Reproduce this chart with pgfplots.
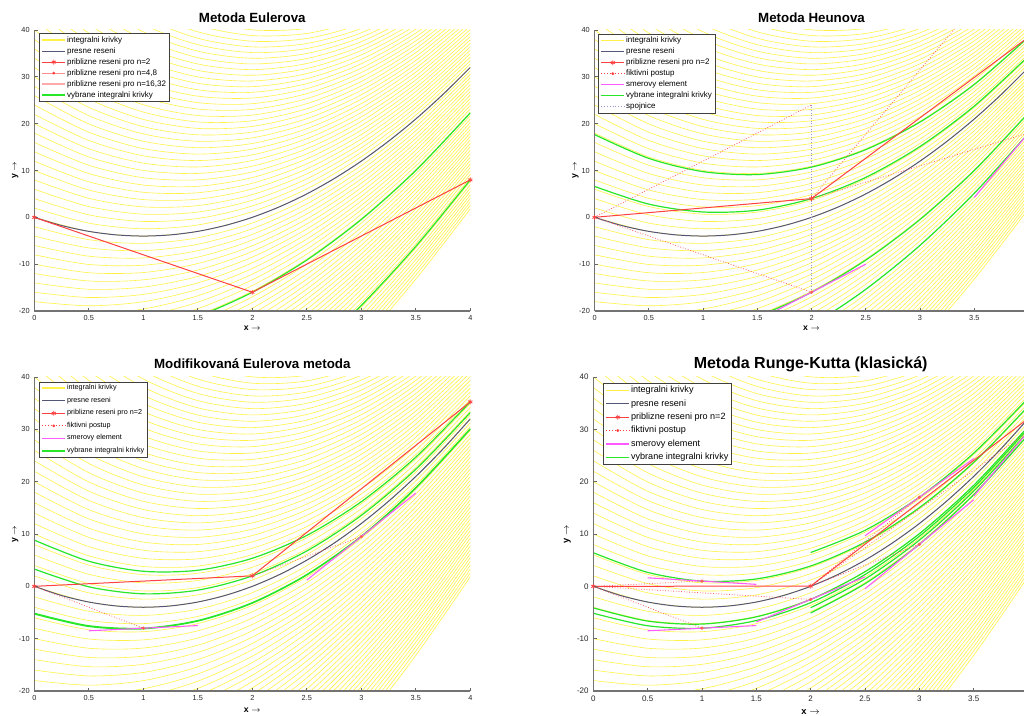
\documentclass[border=0pt]{standalone}
\usepackage{fontspec}
\setmainfont{Liberation Sans}
\usepackage{pgfplots}
\usepackage{pgfplotstable}
\pgfplotsset{compat=1.18}

\definecolor{yelc}{RGB}{255,242,70}
\definecolor{exc}{RGB}{85,85,118}
\definecolor{redc}{RGB}{255,65,65}
\definecolor{grc}{RGB}{40,230,40}
\definecolor{magc}{RGB}{255,90,255}
\definecolor{spc}{RGB}{150,150,205}

% integralni krivky, one column per curve (y(0) = -82,-80,...,66)
\pgfplotstableread[header=false]{
0 -82 -80 -78 -76 -74 -72 -70 -68 -66 -64 -62 -60 -58 -56 -54 -52 -50 -48 -46 -44 -42 -40 -38 -36 -34 -32 -30 -28 -26 -24 -22 -20 -18 -16 -14 -12 -10 -8 -6 -4 -2 0 2 4 6 8 10 12 14 16 18 20 22 24 26 28 30 32 34 36 38 40 42 44 46 48 50 52 54 56 58 60 62 64 66
0.5 -75.37 -73.60 -71.84 -70.07 -68.31 -66.54 -64.78 -63.01 -61.25 -59.48 -57.72 -55.95 -54.19 -52.42 -50.66 -48.89 -47.13 -45.36 -43.60 -41.83 -40.07 -38.30 -36.54 -34.77 -33.01 -31.24 -29.48 -27.71 -25.95 -24.18 -22.42 -20.65 -18.89 -17.12 -15.36 -13.59 -11.83 -10.06 -8.30 -6.53 -4.77 -3.00 -1.24 0.53 2.30 4.06 5.83 7.59 9.36 11.12 12.89 14.65 16.42 18.18 19.95 21.71 23.48 25.24 27.01 28.77 30.54 32.30 34.07 35.83 37.60 39.36 41.13 42.89 44.66 46.42 48.19 49.95 51.72 53.48 55.25
1 -67.86 -66.30 -64.75 -63.19 -61.63 -60.07 -58.52 -56.96 -55.40 -53.84 -52.29 -50.73 -49.17 -47.61 -46.06 -44.50 -42.94 -41.38 -39.82 -38.27 -36.71 -35.15 -33.59 -32.04 -30.48 -28.92 -27.36 -25.81 -24.25 -22.69 -21.13 -19.58 -18.02 -16.46 -14.90 -13.35 -11.79 -10.23 -8.67 -7.12 -5.56 -4.00 -2.44 -0.88 0.67 2.23 3.79 5.35 6.90 8.46 10.02 11.58 13.13 14.69 16.25 17.81 19.36 20.92 22.48 24.04 25.59 27.15 28.71 30.27 31.82 33.38 34.94 36.50 38.06 39.61 41.17 42.73 44.29 45.84 47.40
1.5 -59.36 -57.98 -56.61 -55.23 -53.86 -52.49 -51.11 -49.74 -48.36 -46.99 -45.61 -44.24 -42.86 -41.49 -40.11 -38.74 -37.37 -35.99 -34.62 -33.24 -31.87 -30.49 -29.12 -27.74 -26.37 -24.99 -23.62 -22.24 -20.87 -19.50 -18.12 -16.75 -15.37 -14.00 -12.62 -11.25 -9.87 -8.50 -7.12 -5.75 -4.37 -3.00 -1.63 -0.25 1.12 2.50 3.87 5.25 6.62 8.00 9.37 10.75 12.12 13.50 14.87 16.24 17.62 18.99 20.37 21.74 23.12 24.49 25.87 27.24 28.62 29.99 31.37 32.74 34.11 35.49 36.86 38.24 39.61 40.99 42.36
2 -49.73 -48.52 -47.31 -46.09 -44.88 -43.67 -42.46 -41.24 -40.03 -38.82 -37.60 -36.39 -35.18 -33.96 -32.75 -31.54 -30.33 -29.11 -27.90 -26.69 -25.47 -24.26 -23.05 -21.83 -20.62 -19.41 -18.20 -16.98 -15.77 -14.56 -13.34 -12.13 -10.92 -9.70 -8.49 -7.28 -6.07 -4.85 -3.64 -2.43 -1.21 0.00 1.21 2.43 3.64 4.85 6.07 7.28 8.49 9.70 10.92 12.13 13.34 14.56 15.77 16.98 18.20 19.41 20.62 21.83 23.05 24.26 25.47 26.69 27.90 29.11 30.33 31.54 32.75 33.96 35.18 36.39 37.60 38.82 40.03
2.5 -38.89 -37.82 -36.75 -35.68 -34.61 -33.54 -32.47 -31.40 -30.33 -29.26 -28.19 -27.12 -26.05 -24.98 -23.91 -22.84 -21.77 -20.69 -19.62 -18.55 -17.48 -16.41 -15.34 -14.27 -13.20 -12.13 -11.06 -9.99 -8.92 -7.85 -6.78 -5.71 -4.64 -3.56 -2.49 -1.42 -0.35 0.72 1.79 2.86 3.93 5.00 6.07 7.14 8.21 9.28 10.35 11.42 12.49 13.56 14.64 15.71 16.78 17.85 18.92 19.99 21.06 22.13 23.20 24.27 25.34 26.41 27.48 28.55 29.62 30.69 31.77 32.84 33.91 34.98 36.05 37.12 38.19 39.26 40.33
3 -26.74 -25.79 -24.85 -23.90 -22.96 -22.01 -21.07 -20.12 -19.18 -18.23 -17.29 -16.34 -15.40 -14.45 -13.51 -12.56 -11.62 -10.68 -9.73 -8.79 -7.84 -6.90 -5.95 -5.01 -4.06 -3.12 -2.17 -1.23 -0.28 0.66 1.61 2.55 3.50 4.44 5.39 6.33 7.28 8.22 9.17 10.11 11.06 12.00 12.94 13.89 14.83 15.78 16.72 17.67 18.61 19.56 20.50 21.45 22.39 23.34 24.28 25.23 26.17 27.12 28.06 29.01 29.95 30.90 31.84 32.79 33.73 34.68 35.62 36.56 37.51 38.45 39.40 40.34 41.29 42.23 43.18
3.5 -13.19 -12.35 -11.52 -10.68 -9.85 -9.02 -8.18 -7.35 -6.52 -5.68 -4.85 -4.01 -3.18 -2.35 -1.51 -0.68 0.16 0.99 1.82 2.66 3.49 4.32 5.16 5.99 6.83 7.66 8.49 9.33 10.16 10.99 11.83 12.66 13.50 14.33 15.16 16.00 16.83 17.66 18.50 19.33 20.17 21.00 21.83 22.67 23.50 24.34 25.17 26.00 26.84 27.67 28.50 29.34 30.17 31.01 31.84 32.67 33.51 34.34 35.17 36.01 36.84 37.68 38.51 39.34 40.18 41.01 41.85 42.68 43.51 44.35 45.18 46.01 46.85 47.68 48.52
4 1.83 2.57 3.30 4.04 4.78 5.51 6.25 6.98 7.72 8.45 9.19 9.93 10.66 11.40 12.13 12.87 13.61 14.34 15.08 15.81 16.55 17.28 18.02 18.76 19.49 20.23 20.96 21.70 22.43 23.17 23.91 24.64 25.38 26.11 26.85 27.59 28.32 29.06 29.79 30.53 31.26 32.00 32.74 33.47 34.21 34.94 35.68 36.41 37.15 37.89 38.62 39.36 40.09 40.83 41.57 42.30 43.04 43.77 44.51 45.24 45.98 46.72 47.45 48.19 48.92 49.66 50.40 51.13 51.87 52.60 53.34 54.07 54.81 55.55 56.28
}\yel

% presne reseni
\pgfplotstableread{
x y
0 0
0.25 -1.75
0.5 -3
0.75 -3.75
1 -4
1.25 -3.75
1.5 -3
1.75 -1.75
2 0
2.25 2.25
2.5 5
2.75 8.25
3 12
3.25 16.25
3.5 21
3.75 26.25
4 32
}\exact

\pgfplotsset{
  odeaxis/.style={
    scale only axis, anchor=south west,
    xmin=0, xmax=4, ymin=-20, ymax=40,
    axis x line=bottom, axis y line=left,
    axis line style={-, draw=black!55, line width=0.8pt},
    axis on top,
    tick align=inside, major tick length=2.5pt,
    every tick/.style={draw=black!60, line width=0.5pt},
    xtick={0,0.5,1,1.5,2,2.5,3,3.5,4},
    xticklabels={0,0.5,1,1.5,2,2.5,3,3.5,4},
    ytick={-20,-10,0,10,20,30,40},
    yticklabels={-20,-10,0,10,20,30,40},
    tick label style={font=\fontsize{5.5}{6}\selectfont, text=black!85},
    xlabel={x $\rightarrow$}, ylabel={y $\rightarrow$},
    label style={font=\bfseries\fontsize{6.5}{7}\selectfont},
    xlabel style={at={(axis description cs:0.5,-0.06)}, anchor=center},
    ylabel style={at={(axis description cs:-0.044,0.5)}, anchor=center},
    title style={at={(axis description cs:0.5,1.014)}, anchor=center,
      font=\bfseries\fontsize{10}{12}\selectfont},
    legend cell align=left,
    legend style={anchor=north west, draw=black!75, line width=0.5pt, fill=white,
      font=\fontsize{6}{6}\selectfont, inner xsep=1.5pt, inner ysep=1pt,
      row sep=0.6pt, nodes={inner sep=0.9pt}},
  },
  rightpanel/.style={xtick={0,0.5,1,1.5,2,2.5,3,3.5},
    xticklabels={0,0.5,1,1.5,2,2.5,3,3.5}},
  yel/.style={yelc, line width=0.45pt, smooth, forget plot},
  ex/.style={exc, line width=0.75pt, smooth, forget plot},
  gr/.style={grc, line width=0.9pt, smooth, forget plot},
  appr/.style={redc, line width=0.75pt, mark=asterisk, mark size=1.8pt,
    mark options={solid, line width=0.6pt}, forget plot},
  fict/.style={redc!85!white, line width=0.6pt, dash pattern=on 0.6pt off 1.4pt,
    mark=*, mark size=0.9pt, mark options={solid}, mark indices={2}, forget plot},
  smer/.style={magc, line width=0.8pt, forget plot},
  spoj/.style={draw=spc, line width=0.6pt, dash pattern=on 0.6pt off 1.4pt, forget plot},
  % legend images, drawn explicitly
  Lline/.style 2 args={legend image code/.code={
    \draw[#1, line width=#2] (0cm,0cm) -- (0.6cm,0cm);}},
  Lyel/.style={Lline={yelc}{1.1pt}},
  Lex/.style={Lline={exc}{0.8pt}},
  Lsmer/.style={Lline={magc}{1.1pt}},
  Lgr/.style={Lline={grc}{1.1pt}},
  L16/.style={Lline={redc!45!white}{1pt}},
  Lspoj/.style={legend image code/.code={
    \draw[spc, line width=0.7pt, dash pattern=on 0.7pt off 1.4pt] (0cm,0cm) -- (0.6cm,0cm);}},
  Lappr/.style={legend image code/.code={
    \draw[redc, line width=0.8pt] (0cm,0cm) -- (0.6cm,0cm);
    \draw[redc, line width=0.6pt] plot[mark=asterisk, mark size=1.8pt] coordinates {(0.3cm,0cm)};}},
  L48/.style={legend image code/.code={
    \draw[redc!60!white, line width=0.9pt] (0cm,0cm) -- (0.6cm,0cm);
    \fill[redc] (0.3cm,0cm) circle (0.8pt);}},
  Lfict/.style={legend image code/.code={
    \draw[redc, line width=0.7pt, dash pattern=on 0.7pt off 1.4pt] (0cm,0cm) -- (0.6cm,0cm);
    \fill[redc] (0.3cm,0cm) circle (0.8pt);}},
}

\newcommand\basecurves{%
  \pgfplotsinvokeforeach{1,...,75}{\addplot[yel] table[x index=0, y index=##1]{\yel};}%
  \addplot[ex] table[x=x, y=y]{\exact};%
}

\begin{document}
\begin{tikzpicture}
\useasboundingbox (0,0) rectangle (768pt,537pt);
\clip (0,0) rectangle (768pt,537pt);

% ---------------- Metoda Eulerova
\begin{axis}[odeaxis, at={(25.73pt,303.75pt)}, width=327pt, height=210.75pt,
  title={Metoda Eulerova}, legend style={at={(0.0115,0.988)}}]
\addlegendimage{Lyel}\addlegendentry{integralni krivky}
\addlegendimage{Lex}\addlegendentry{presne reseni}
\addlegendimage{Lappr}\addlegendentry{priblizne reseni pro n=2}
\addlegendimage{L48}\addlegendentry{priblizne reseni pro n=4,8}
\addlegendimage{L16}\addlegendentry{priblizne reseni pro n=16,32}
\addlegendimage{Lgr}\addlegendentry{vybrane integralni krivky}
\basecurves
\addplot[gr] coordinates {(0,-26.38)(0.5,-26.28)(1,-24.54)(1.5,-21.13)(2,-16)(2.5,-9.12)(3,-0.46)(3.5,10.00)(4,22.30)};
\addplot[gr] coordinates {(1.5,-47.84)(2,-39.57)(2.5,-29.92)(3,-18.82)(3.5,-6.20)(4,8.00)};
\addplot[appr] coordinates {(0,0)(2,-16)(4,8)};
\end{axis}

% ---------------- Metoda Heunova
\begin{axis}[odeaxis, rightpanel, at={(445.9pt,303.75pt)}, width=325.5pt, height=210.75pt,
  title={Metoda Heunova}, legend style={at={(0.0088,0.986)}}]
\addlegendimage{Lyel}\addlegendentry{integralni krivky}
\addlegendimage{Lex}\addlegendentry{presne reseni}
\addlegendimage{Lappr}\addlegendentry{priblizne reseni pro n=2}
\addlegendimage{Lfict}\addlegendentry{fiktivni postup}
\addlegendimage{Lsmer}\addlegendentry{smerovy element}
\addlegendimage{Lgr}\addlegendentry{vybrane integralni krivky}
\addlegendimage{Lspoj}\addlegendentry{spojnice}
\basecurves
\addplot[gr] coordinates {(0,17.67)(0.5,12.59)(1,9.76)(1.5,9.14)(2,10.72)(2.5,14.46)(3,20.35)(3.5,28.37)(4,38.50)};
\addplot[gr] coordinates {(0,6.60)(0.5,2.82)(1,1.14)(1.5,1.53)(2,4.00)(2.5,8.53)(3,15.12)(3.5,23.75)(4,34.43)};
\addplot[gr] coordinates {(0,-26.38)(0.5,-26.28)(1,-24.54)(1.5,-21.13)(2,-16)(2.5,-9.12)(3,-0.46)(3.5,10.00)(4,22.30)};
\addplot[gr] coordinates {(1,-33.64)(1.5,-29.16)(2,-23.08)(2.5,-15.37)(3,-5.98)(3.5,5.13)(4,18.00)};
\addplot[smer] coordinates {(1.5,-22)(2.5,-10)};
\addplot[smer] coordinates {(3.5,4.25)(4.5,31.75)};
\addplot[spoj] coordinates {(2,-16)(2,24)};
\addplot[spoj] coordinates {(4,18)(4,59)};
\addplot[fict] coordinates {(0,0)(2,-16)};
\addplot[fict, mark=none] coordinates {(0,0)(2,24)};
\addplot[fict] coordinates {(2,4)(4,18)};
\addplot[fict, mark=none] coordinates {(2,4)(4,59)};
\addplot[appr] coordinates {(0,0)(2,4)(4,38.5)};
\end{axis}

% ---------------- Modifikovana Eulerova metoda
\begin{axis}[odeaxis, at={(25.73pt,18.75pt)}, width=327pt, height=235.5pt,
  title={Modifikovaná Eulerova metoda},
  xlabel style={at={(axis description cs:0.5,-0.062)}},
  title style={at={(axis description cs:0.5,1.016)}},
  legend style={at={(0.0115,0.985)}, font=\fontsize{5.4}{5.4}\selectfont, row sep=2.2pt}]
\addlegendimage{Lyel}\addlegendentry{integralni krivky}
\addlegendimage{Lex}\addlegendentry{presne reseni}
\addlegendimage{Lappr}\addlegendentry{priblizne reseni pro n=2}
\addlegendimage{Lfict}\addlegendentry{fiktivni postup}
\addlegendimage{Lsmer}\addlegendentry{smerovy element}
\addlegendimage{Lgr}\addlegendentry{vybrane integralni krivky}
\basecurves
\addplot[gr] coordinates {(0,8.83)(0.5,4.80)(1,2.88)(1.5,3.07)(2,5.36)(2.5,9.73)(3,16.17)(3.5,24.68)(4,35.25)};
\addplot[gr] coordinates {(0,3.30)(0.5,-0.09)(1,-1.43)(1.5,-0.73)(2,2.00)(2.5,6.76)(3,13.56)(3.5,22.37)(4,33.21)};
\addplot[gr] coordinates {(0,-5.14)(0.5,-7.53)(1,-8.00)(1.5,-6.53)(2,-3.12)(2.5,2.25)(3,9.57)(3.5,18.86)(4,30.11)};
\addplot[gr] coordinates {(0,-5.29)(0.5,-7.67)(1,-8.12)(1.5,-6.64)(2,-3.21)(2.5,2.17)(3,9.50)(3.5,18.79)(4,30.05)};
\addplot[smer] coordinates {(0.5,-8.5)(1.5,-7.5)};
\addplot[smer] coordinates {(2.5,1.19)(3.5,17.81)};
\addplot[fict] coordinates {(0,0)(1,-8)};
\addplot[fict] coordinates {(2,2)(3,9.5)};
\addplot[appr] coordinates {(0,0)(2,2)(4,35.25)};
\end{axis}

% ---------------- Metoda Runge-Kutta (klasicka)
\begin{axis}[odeaxis, rightpanel, at={(445pt,18.75pt)}, width=326pt, height=235.5pt,
  title={Metoda Runge-Kutta (klasická)},
  title style={at={(axis description cs:0.5,1.016)}, font=\bfseries\fontsize{12}{14}\selectfont},
  tick label style={font=\fontsize{6}{6.5}\selectfont},
  label style={font=\bfseries\fontsize{7}{8}\selectfont},
  xlabel style={at={(axis description cs:0.5,-0.066)}},
  ylabel style={at={(axis description cs:-0.06,0.5)}},
  legend style={at={(0.023,0.98)}, font=\fontsize{6.8}{6.8}\selectfont, row sep=1.8pt}]
\addlegendimage{Lyel}\addlegendentry{integralni krivky}
\addlegendimage{Lex}\addlegendentry{presne reseni}
\addlegendimage{Lappr}\addlegendentry{priblizne reseni pro n=2}
\addlegendimage{Lfict}\addlegendentry{fiktivni postup}
\addlegendimage{Lsmer}\addlegendentry{smerovy element}
\addlegendimage{Lgr}\addlegendentry{vybrane integralni krivky}
\basecurves
\addplot[gr] coordinates {(0,-5.14)(0.5,-7.53)(1,-8.00)(1.5,-6.53)(2,-3.12)(2.5,2.25)(3,9.57)(3.5,18.86)(4,30.11)};
\addplot[gr] coordinates {(0,6.42)(0.5,2.67)(1,1.00)(1.5,1.41)(2,3.89)(2.5,8.44)(3,15.03)(3.5,23.68)(4,34.36)};
\addplot[gr] coordinates {(0,-4.12)(0.5,-6.64)(1,-7.21)(1.5,-5.83)(2,-2.50)(2.5,2.79)(3,10.05)(3.5,19.28)(4,30.48)};
\addplot[gr] coordinates {(2,-5.09)(2.5,0.50)(3,8.03)(3.5,17.50)(4,28.91)};
\addplot[gr] coordinates {(2,6.46)(2.5,10.70)(3,17.03)(3.5,25.44)(4,35.92)};
\addplot[gr] coordinates {(2,-4.09)(2.5,1.39)(3,8.82)(3.5,18.19)(4,29.52)};
\addplot[smer] coordinates {(0.5,-8.5)(1.5,-7.5)};
\addplot[smer] coordinates {(0.5,1.625)(1.5,0.375)};
\addplot[smer] coordinates {(1.5,-6.81)(2.5,1.81)};
\addplot[smer] coordinates {(2.5,-0.47)(3.5,16.53)};
\addplot[smer] coordinates {(2.5,9.66)(3.5,24.40)};
\addplot[smer] coordinates {(3.5,17.21)(4.5,41.83)};
\addplot[fict] coordinates {(0,0)(1,-8)};
\addplot[fict] coordinates {(0,0)(1,1)};
\addplot[fict] coordinates {(0,0)(2,-2.5)};
\addplot[fict] coordinates {(2,0.04)(3,8.03)};
\addplot[fict] coordinates {(2,0.04)(3,17.03)};
\addplot[fict] coordinates {(2,0.04)(4,29.52)};
\addplot[appr] coordinates {(0,0)(2,0.04)(4,32.06)};
\end{axis}
\end{tikzpicture}
\end{document}
